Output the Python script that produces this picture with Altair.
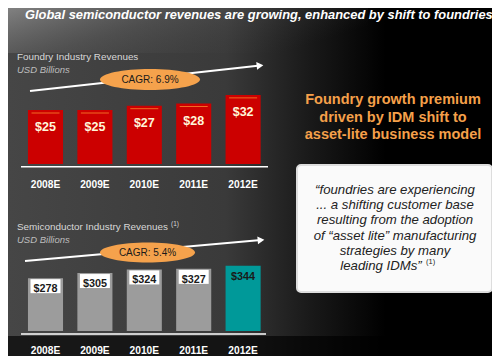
import altair as alt
import pandas as pd

# ---------------- data ----------------
years = ["2008E", "2009E", "2010E", "2011E", "2012E"]
foundry = [25, 25, 27, 28, 32]
foundry_labels = ["$25", "$25", "$27", "$28", "$32"]
semi = [278, 305, 324, 327, 344]
semi_labels = ["$278", "$305", "$324", "$327", "$344"]

title_text = "Global semiconductor revenues are growing, enhanced by shift to foundries"
top_header = "Foundry Industry Revenues"
bottom_header = "Semiconductor Industry Revenues"
footnote_mark = "(1)"
unit_text = "USD Billions"
cagr_top = "CAGR: 6.9%"
cagr_bottom = "CAGR: 5.4%"
right_lines = ["Foundry growth premium", "driven by IDM shift to", "asset-lite business model"]
quote_lines = [
    "\u201cfoundries are experiencing",
    "... a shifting customer base",
    "resulting from the adoption",
    "of \u201casset lite\u201d manufacturing",
    "strategies by many",
]
quote_last = "leading IDMs\u201d"

df = pd.DataFrame({"year": years, "foundry": foundry, "flab": foundry_labels,
                   "semi": semi, "slab": semi_labels})
one = pd.DataFrame({"a": [0]})

W, H = 484, 348
FONT = "Liberation Sans"

xband = alt.Scale(domain=years, range=[12.8, 259.8], paddingInner=0.29, paddingOuter=0.145)
y_top = alt.Scale(domain=[0, 40], range=[156, 69.6])
y_bot = alt.Scale(domain=[0, 400], range=[323, 247])
X = alt.X("year:N", scale=xband, axis=None, sort=years)

# ---------------- background ----------------
bg = alt.Chart(one).mark_rect(
    color=alt.Gradient(
        gradient="linear",
        stops=[alt.GradientStop(color="#464646", offset=0),
               alt.GradientStop(color="#3a3a3a", offset=0.45),
               alt.GradientStop(color="#1a1a1a", offset=0.62),
               alt.GradientStop(color="#000000", offset=0.78),
               alt.GradientStop(color="#000000", offset=1)],
        x1=0, x2=1, y1=0, y2=0)
).encode(x=alt.value(0), x2=alt.value(W), y=alt.value(0), y2=alt.value(H))

bg_top = alt.Chart(one).mark_rect(
    color=alt.Gradient(
        gradient="linear",
        stops=[alt.GradientStop(color="rgba(140,140,140,0.85)", offset=0),
               alt.GradientStop(color="rgba(100,100,100,0.4)", offset=0.45),
               alt.GradientStop(color="rgba(60,60,60,0)", offset=1)],
        x1=0, x2=1, y1=0, y2=0.4)
).encode(x=alt.value(0), x2=alt.value(360), y=alt.value(0), y2=alt.value(45))

bg_bottom = alt.Chart(one).mark_rect(color="rgba(0,0,0,0.65)").encode(
    x=alt.value(0), x2=alt.value(W), y=alt.value(328), y2=alt.value(H))

# ---------------- titles ----------------
title = alt.Chart(one).mark_text(
    align="left", baseline="middle", font=FONT, fontSize=12.9, fontWeight="bold",
    fontStyle="italic", color="#ffffff"
).encode(x=alt.value(17), y=alt.value(7), text=alt.value(title_text))

def header(txt, y, italic=False, size=9.9, color="#d8d8d8", x=9):
    return alt.Chart(one).mark_text(
        align="left", baseline="middle", font=FONT, fontSize=size,
        fontStyle="italic" if italic else "normal", color=color
    ).encode(x=alt.value(x), y=alt.value(y), text=alt.value(txt))

h1 = header(top_header, 49)
h1u = header(unit_text, 62, italic=True, size=9.5, color="#bdbdbd")
h2 = header(bottom_header, 219)
h2s = header(footnote_mark, 216, size=6.5, x=163)
h2u = header(unit_text, 232, italic=True, size=9.5, color="#bdbdbd")

# ---------------- arrows + CAGR ellipses ----------------
def arrow(x1, y1, x2, y2, ang):
    line = alt.Chart(one).mark_rule(color="white", strokeWidth=2).encode(
        x=alt.value(x1), y=alt.value(y1), x2=alt.value(x2), y2=alt.value(y2))
    head = alt.Chart(one).mark_point(shape="triangle-right", filled=True, color="white",
                                     opacity=1, size=60, angle=ang).encode(
        x=alt.value(x2), y=alt.value(y2))
    return line + head

def ellipse(cx, cy, w, h, txt):
    ry = h / w
    path = f"M-1,0A1,{ry:.3f},0,1,1,1,0A1,{ry:.3f},0,1,1,-1,0Z"
    e = alt.Chart(one).mark_point(shape=path, filled=True, color="#F5A24C", opacity=1,
                                  size=w * w, strokeWidth=0).encode(
        x=alt.value(cx), y=alt.value(cy))
    t = alt.Chart(one).mark_text(font=FONT, fontSize=10, color="#1a1a1a",
                                 baseline="middle").encode(
        x=alt.value(cx), y=alt.value(cy), text=alt.value(txt))
    return e + t

arr1 = arrow(22, 83, 252, 57.5, 353.6)
arr2 = arrow(17, 253, 253, 232, 355)
ell1 = ellipse(142, 71.5, 100, 21, cagr_top)
ell2 = ellipse(139.5, 244.5, 95, 20, cagr_bottom)

# ---------------- top bars ----------------
base = alt.Chart(df)
bars_top = base.mark_bar(color="#CC0000").encode(
    x=X, y=alt.Y("foundry:Q", scale=y_top, axis=None))
tick_top = base.mark_tick(color="#FF9933", thickness=1, size=28, yOffset=3).encode(
    x=X, y=alt.Y("foundry:Q", scale=y_top, axis=None))
lab_top = base.mark_text(font=FONT, fontSize=12.5, fontWeight="bold", color="#FFF6DA",
                         baseline="middle", yOffset=17).encode(
    x=X, y=alt.Y("foundry:Q", scale=y_top, axis=None), text="flab:N")
base_top = alt.Chart(one).mark_rule(color="white", strokeWidth=1.5).encode(
    x=alt.value(13), x2=alt.value(260), y=alt.value(158.7))
yr_top = base.mark_text(font=FONT, fontSize=10.2, fontWeight="bold", color="white",
                        baseline="middle").encode(x=X, y=alt.value(177), text="year:N")

# ---------------- bottom bars ----------------
bars_bot = base.mark_bar().encode(
    x=X, y=alt.Y("semi:Q", scale=y_bot, axis=None),
    color=alt.condition(alt.datum.year == "2012E", alt.value("#009999"), alt.value("#9c9c9c")))
card_bot = base.mark_tick(color="white", thickness=14, size=30, yOffset=8).encode(
    x=X, y=alt.Y("semi:Q", scale=y_bot, axis=None),
    opacity=alt.condition(alt.datum.year == "2012E", alt.value(0), alt.value(1)))
lab_bot = base.mark_text(font=FONT, fontSize=10.8, fontWeight="bold", color="#1a1a1a",
                         baseline="middle", yOffset=11).encode(
    x=X, y=alt.Y("semi:Q", scale=y_bot, axis=None), text="slab:N")
base_bot = alt.Chart(one).mark_rule(color="white", strokeWidth=1.5).encode(
    x=alt.value(13), x2=alt.value(258), y=alt.value(326))
yr_bot = base.mark_text(font=FONT, fontSize=10.2, fontWeight="bold", color="white",
                        baseline="middle").encode(x=X, y=alt.value(343), text="year:N")

# ---------------- right side ----------------
right_txt = alt.Chart(one).mark_text(
    font=FONT, fontSize=14.5, fontWeight="bold", color="#F5A04A", align="center",
    baseline="middle", lineBreak="\n", lineHeight=17.5
).encode(x=alt.value(385), y=alt.value(92), text=alt.value("\n".join(right_lines)))

qbox = alt.Chart(one).mark_rect(color="#fafafa", cornerRadius=4, stroke="#dddddd",
                                strokeWidth=2).encode(
    x=alt.value(289), x2=alt.value(484), y=alt.value(157), y2=alt.value(284))
qtxt = alt.Chart(one).mark_text(
    font=FONT, fontSize=13.2, fontStyle="italic", color="#222222", align="center",
    baseline="middle", lineBreak="\n", lineHeight=15.2
).encode(x=alt.value(387), y=alt.value(182), text=alt.value("\n".join(quote_lines)))
qlast = alt.Chart(one).mark_text(
    font=FONT, fontSize=13.2, fontStyle="italic", color="#222222", align="center",
    baseline="middle"
).encode(x=alt.value(373), y=alt.value(258), text=alt.value(quote_last))
qsup = alt.Chart(one).mark_text(
    font=FONT, fontSize=7.5, color="#222222", align="left", baseline="middle"
).encode(x=alt.value(418), y=alt.value(254), text=alt.value(footnote_mark))

chart = alt.layer(
    bg, bg_top, bg_bottom, title, h1, h1u, h2, h2s, h2u,
    arr1, arr2,
    bars_top, tick_top, lab_top, base_top, yr_top,
    bars_bot, card_bot, lab_bot, base_bot, yr_bot,
    ell1, ell2, right_txt, qbox, qtxt, qlast, qsup
).resolve_scale(y="independent").properties(
    width=W, height=H, padding=0, autosize=alt.AutoSizeParams(type="none"),
    background="#000000"
).configure_view(stroke=None)

chart.save("out.html", embed_options={"renderer": "svg", "actions": False})
